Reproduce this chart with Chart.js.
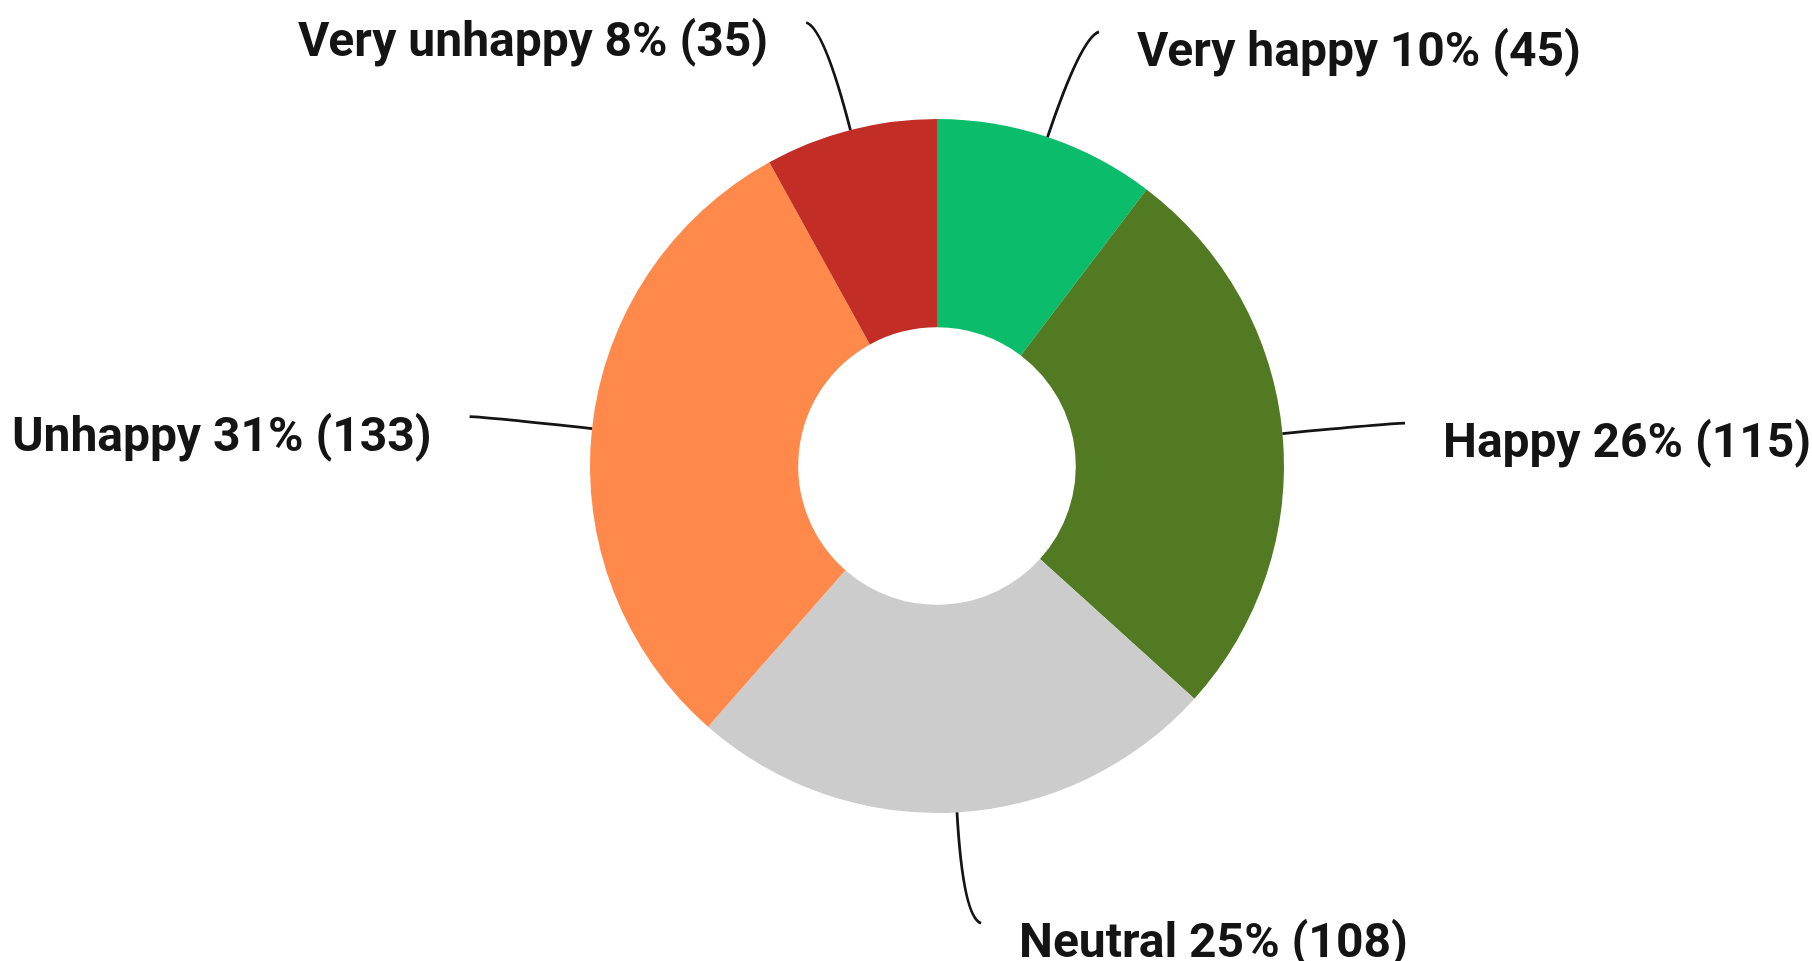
<!DOCTYPE html>
<html>
<head>
<meta charset="utf-8">
<title>Happiness survey</title>
<script src="https://cdn.jsdelivr.net/npm/chart.js@4/dist/chart.umd.min.js"></script>
<style>
    html, body { margin: 0; padding: 0; background: #ffffff; }
    #wrap { width: 1812px; height: 961px; }
</style>
</head>
<body>
<div id="wrap"><canvas id="moodChart" width="1812" height="961"></canvas></div>
<script>
const categories = ['Very happy', 'Happy', 'Neutral', 'Unhappy', 'Very unhappy'];
const responses = [45, 115, 108, 133, 35];
const sliceColors = ['#0bbd6b', '#517a23', '#cccccc', '#fe894b', '#c22d26'];

const total = responses.reduce((a, b) => a + b, 0);

// Leader lines + labels drawn next to each slice
const leaderLabels = {
    id: 'leaderLabels',
    afterDatasetsDraw(chart, args, opts) {
        const ctx = chart.ctx;
        const meta = chart.getDatasetMeta(0);
        ctx.save();
        ctx.font = opts.font;
        ctx.fillStyle = opts.color;
        ctx.strokeStyle = opts.color;
        ctx.lineWidth = opts.lineWidth;
        meta.data.forEach((arc, i) => {
            const p = arc.getProps(['x', 'y', 'startAngle', 'endAngle', 'outerRadius'], true);
            const mid = (p.startAngle + p.endAngle) / 2;
            const dx = Math.cos(mid), dy = Math.sin(mid);
            const side = dx >= 0 ? 1 : -1;
            const x0 = p.x + dx * p.outerRadius;
            const y0 = p.y + dy * p.outerRadius;
            const cx = x0 + dx * opts.length;
            const cy = y0 + dy * opts.length;
            const ex = cx + side * opts.hook;
            const ey = cy + dy * 6;
            ctx.beginPath();
            ctx.moveTo(x0, y0);
            ctx.quadraticCurveTo(cx, cy, ex, ey);
            ctx.stroke();

            const pct = Math.round(responses[i] / total * 100);
            const text = categories[i] + ' ' + pct + '% (' + responses[i] + ')';
            ctx.textAlign = side > 0 ? 'left' : 'right';
            ctx.textBaseline = 'alphabetic';
            ctx.fillText(text, ex + side * opts.gap, ey + opts.baseline);
        });
        ctx.restore();
    }
};

const ctx = document.getElementById('moodChart').getContext('2d');
const moodChart = new Chart(ctx, {
    type: 'doughnut',
    data: {
        labels: categories,
        datasets: [{
            data: responses,
            backgroundColor: sliceColors,
            borderWidth: 0,
            hoverOffset: 0
        }]
    },
    options: {
        responsive: false,
        animation: false,
        cutout: '40%',
        layout: {
            padding: { top: 119, bottom: 148, left: 400, right: 338 }
        },
        plugins: {
            legend: { display: false },
            tooltip: { enabled: false },
            leaderLabels: {
                font: 'bold 48px Roboto',
                color: '#141414',
                lineWidth: 2.8,
                length: 105,
                hook: 18,
                gap: 38,
                baseline: 34
            }
        }
    },
    plugins: [leaderLabels]
});
</script>
</body>
</html>
